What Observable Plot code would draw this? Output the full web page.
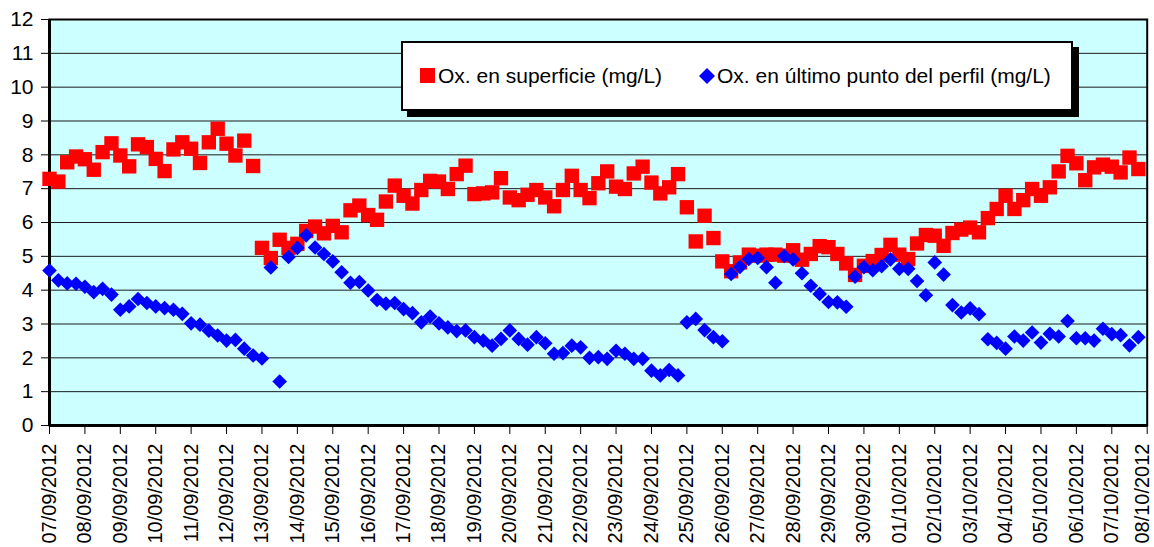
<!DOCTYPE html>
<html>
<head>
<meta charset="utf-8">
<script src="https://cdn.jsdelivr.net/npm/d3@7"></script>
<script src="https://cdn.jsdelivr.net/npm/@observablehq/plot@0.6"></script>
<style>
  html, body { margin: 0; padding: 0; background: #fff; }
  #wrap { position: relative; width: 1154px; height: 547px; overflow: hidden; font-family: Arial, "Liberation Sans", sans-serif; }
  #wrap svg g[aria-label="x-axis tick label"] { font-size: 20px; }
  #legend { position: absolute; left: 401px; top: 41px; width: 668px; height: 66px; background: #fff; border: 2px solid #000; box-shadow: 6px 6px 0 #000; font-size: 21px; color: #000; }
  #legend .item { position: absolute; top: 0; height: 66px; line-height: 66px; white-space: nowrap; }
  #legend svg { position: absolute; top: 25px; }
</style>
</head>
<body>
<div id="wrap"></div>
<script>
// ---- data (6-hourly readings, starting 07/09/2012 00:00) ----
const startDate = "2012-09-07";
const stepHours = 6;
const seriesNames = ["Ox. en superficie (mg/L)", "Ox. en último punto del perfil (mg/L)"];
const seriesColors = ["#FF0000", "#0000FF"];

const oxSurface = [
  7.29, 7.21, 7.78, 7.95, 7.87, 7.56, 8.08, 8.34, 7.98, 7.66, 8.31, 8.23,
  7.88, 7.52, 8.16, 8.37, 8.18, 7.76, 8.37, 8.77, 8.33, 7.98, 8.42, 7.67,
  5.25, 4.95, 5.49, 5.25, 5.37, 5.75, 5.88, 5.68, 5.90, 5.71, 6.36, 6.50,
  6.22, 6.08, 6.62, 7.09, 6.79, 6.56, 6.96, 7.23, 7.21, 6.99, 7.43, 7.68,
  6.84, 6.86, 6.89, 7.31, 6.74, 6.66, 6.82, 6.96, 6.74, 6.48, 6.96, 7.38,
  6.96, 6.72, 7.16, 7.51, 7.06, 6.99, 7.45, 7.65, 7.18, 6.86, 7.04, 7.43,
  6.45, 5.44, 6.20, 5.54, 4.85, 4.56, 4.82, 5.05, 5.02, 5.05, 5.05, 5.02,
  5.18, 4.90, 5.07, 5.30, 5.27, 5.07, 4.79, 4.45, 4.72, 4.86, 5.04, 5.34,
  5.05, 4.92, 5.38, 5.63, 5.61, 5.31, 5.69, 5.79, 5.85, 5.71, 6.13, 6.40,
  6.79, 6.40, 6.66, 6.99, 6.79, 7.04, 7.51, 7.97, 7.75, 7.25, 7.63, 7.71,
  7.65, 7.48, 7.92, 7.58
];

const oxBottom = [
  4.58, 4.29, 4.20, 4.19, 4.10, 3.94, 4.04, 3.87, 3.42, 3.52, 3.74, 3.62,
  3.52, 3.47, 3.42, 3.30, 3.02, 2.98, 2.80, 2.66, 2.51, 2.53, 2.27, 2.07,
  1.98, 4.67, 1.30, 4.98, 5.25, 5.62, 5.26, 5.07, 4.85, 4.53, 4.22, 4.24,
  3.99, 3.71, 3.60, 3.62, 3.44, 3.32, 3.05, 3.22, 3.02, 2.90, 2.79, 2.81,
  2.61, 2.51, 2.36, 2.56, 2.81, 2.56, 2.39, 2.61, 2.43, 2.12, 2.14, 2.36,
  2.31, 2.00, 2.02, 1.97, 2.21, 2.12, 1.97, 1.97, 1.62, 1.48, 1.64, 1.48,
  3.05, 3.15, 2.82, 2.61, 2.49, 4.48, 4.69, 4.92, 4.95, 4.68, 4.22, 5.01,
  4.91, 4.50, 4.13, 3.89, 3.65, 3.64, 3.51, 4.40, 4.68, 4.59, 4.71, 4.91,
  4.63, 4.63, 4.27, 3.85, 4.82, 4.46, 3.56, 3.34, 3.46, 3.29, 2.55, 2.44,
  2.27, 2.63, 2.51, 2.75, 2.45, 2.71, 2.63, 3.09, 2.58, 2.58, 2.51, 2.86,
  2.70, 2.67, 2.37, 2.61
];

const xTickStart = "2012-09-07";
const xTickEnd = "2012-10-08";
const yTicks = [0, 1, 2, 3, 4, 5, 6, 7, 8, 9, 10, 11, 12];

// ---- build ----
const t0 = new Date(startDate + "T00:00:00Z");
const dateAt = i => new Date(+t0 + i * stepHours * 3600e3);
const surf = oxSurface.map((v, i) => ({date: dateAt(i), value: v}));
const bott = oxBottom.map((v, i) => ({date: dateAt(i), value: v}));
const xStart = new Date(xTickStart + "T00:00:00Z");
const xEnd = new Date(xTickEnd + "T00:00:00Z");
const xTicks = d3.utcDay.range(xStart, d3.utcDay.offset(xEnd, 1));
const fmt = d3.utcFormat("%d/%m/%Y");

const chart = Plot.plot({
  width: 1154,
  height: 547,
  marginLeft: 49,
  marginRight: 7.3,
  marginTop: 19,
  marginBottom: 122,
  style: {fontFamily: "Arial, 'Liberation Sans', sans-serif", fontSize: "21px", color: "#000", background: "transparent", overflow: "visible"},
  x: {type: "utc", domain: [xStart, xEnd], ticks: xTicks, tickFormat: fmt, tickRotate: -90, tickSize: 9, tickPadding: 9, label: null},
  y: {domain: [0, 12], ticks: yTicks, tickSize: 8, tickPadding: 8, label: null},
  marks: [
    Plot.frame({fill: "#CCFFFF", stroke: null}),
    Plot.ruleY(yTicks, {stroke: "#1a1a1a", strokeWidth: 1}),
    Plot.frame({stroke: "#000", strokeWidth: 2}),
    Plot.ruleY([0], {stroke: "#000", strokeWidth: 3}),
    Plot.ruleX([xStart], {stroke: "#000", strokeWidth: 3}),
    Plot.dot(surf, {x: "date", y: "value", symbol: "square", r: 8.1, fill: seriesColors[0], stroke: null}),
    Plot.dot(bott, {x: "date", y: "value", symbol: "diamond2", r: 6.6, fill: seriesColors[1], stroke: null})
  ]
});

const wrap = document.getElementById("wrap");
wrap.appendChild(chart);

// keep the last (right-edge) date label inside the picture
const xLabels = chart.querySelectorAll('g[aria-label="x-axis tick label"] text');
if (xLabels.length) xLabels[xLabels.length - 1].setAttribute("dy", "-5px");

// legend (inside the plot area, as in the original)
const legend = document.createElement("div");
legend.id = "legend";
legend.innerHTML = `
  <svg width="15" height="15" style="left:17px"><rect x="0" y="0" width="15" height="15" fill="${seriesColors[0]}"/></svg>
  <span class="item" style="left:35px">${seriesNames[0]}</span>
  <svg width="16" height="16" style="left:296px"><path d="M8 0L16 8L8 16L0 8Z" fill="${seriesColors[1]}"/></svg>
  <span class="item" style="left:314px">${seriesNames[1]}</span>`;
wrap.appendChild(legend);
</script>
</body>
</html>
